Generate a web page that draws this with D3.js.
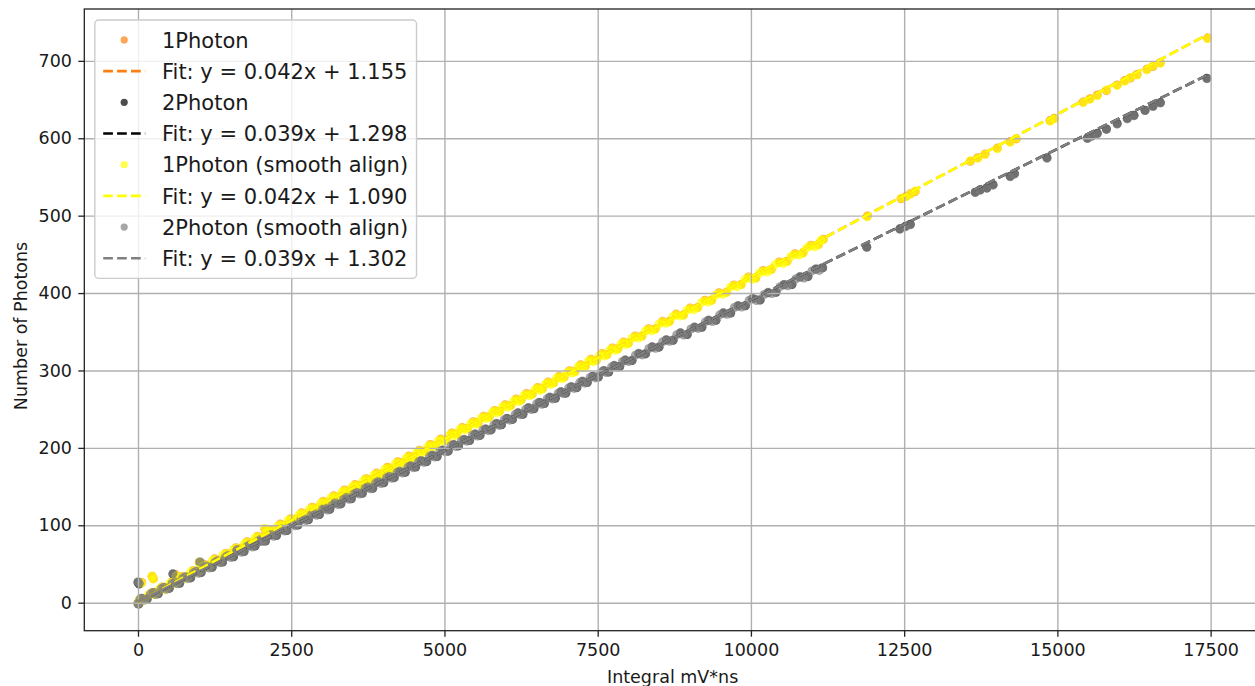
<!DOCTYPE html>
<html><head><meta charset="utf-8">
<script src="https://cdn.jsdelivr.net/npm/d3@7"></script>
<style>
body{margin:0;background:#fff;}
svg{display:block;font-family:"DejaVu Sans",sans-serif;}
</style></head><body><svg id="c" width="1255" height="686"></svg>
<script>
// ---------- data ----------
const xTicks = [0, 2500, 5000, 7500, 10000, 12500, 15000, 17500];
const yTicks = [0, 100, 200, 300, 400, 500, 600, 700];
const xDomain = [-876, 18322];
const yDomain = [-36.2, 767];
const xLabel = "Integral mV*ns";
const yLabel = "Number of Photons";

// 1Photon events (x shared by raw and smooth-aligned)
const x1 = [0,40,110,230,300,390,470,560,640,720,810,900,1000,1080,1170,1250,1340,1430,1510,1600,
1690,1780,1860,1950,2070,2140,2230,2320,2400,2490,2580,2670,2750,2840,2930,3020,3100,3190,3280,3370,
3450,3540,3630,3720,3800,3890,3980,4070,4150,4240,4330,4420,4500,4590,4680,4770,4850,4940,5030,5120,
5200,5290,5380,5470,5550,5640,5730,5820,5900,5990,6080,6170,6250,6340,6430,6520,6600,6690,6780,6870,
6950,7040,7130,7220,7300,7390,7480,7570,7650,7740,7830,7920,8000,8110,8220,8330,8440,8560,8670,8780,
8900,9010,9130,9250,9360,9480,9600,9720,9840,9960,10080,10200,10330,10460,10590,10720,10850,10980,11100,11180,
11900,12450,12530,12600,12680,13580,13700,13820,14020,14230,14330,14880,14950,15420,15530,15650,15800,15975,16100,16190,16300,16460,16560,16680,17450,
60,230,250,620,1000,2070];
const y1 = [-0.3,4.9,4.5,13.2,12.8,20.1,19.6,27.5,26.4,33.9,
33.8,41.7,41.4,49.5,48.4,56.6,55.6,63.9,63.1,71.0,
70.5,78.8,77.4,85.9,86.6,93.7,93.2,101.5,100.2,108.5,
108.0,116.1,115.0,123.3,122.5,130.9,129.6,138.0,137.2,145.6,
144.5,152.6,152.0,160.2,159.1,167.4,166.6,175.0,173.8,182.0,
181.4,189.5,188.6,196.9,195.9,204.4,203.1,211.5,210.6,219.2,
217.9,226.2,225.3,233.8,232.5,240.9,240.1,248.4,247.4,255.6,
254.9,263.1,262.0,270.3,269.5,277.9,276.6,285.0,284.2,292.6,
291.4,299.6,298.9,307.3,306.0,314.4,313.6,322.0,320.7,329.1,
328.4,336.7,335.4,344.6,344.6,353.9,353.9,363.5,363.5,372.8,
371.9,380.7,381.4,390.8,391.1,400.5,401.1,410.5,411.2,420.7,
419.7,429.2,430.5,440.1,441.1,450.9,452.0,461.8,462.7,469.6,
499.5,521.8,525.0,528.2,531.0,570.2,574.9,579.6,587.3,595.8,599.2,622.8,625.7,646.8,651.0,655.9,661.5,668.9,674.6,677.8,682.4,689.0,692.7,697.6,729.4,
26.0,34.0,31.0,36.0,52.0,95.0];
const y1s = [-0.8,4.6,3.9,12.9,12.1,19.8,19.0,26.9,26.1,33.4,
33.2,41.3,41.0,48.8,48.1,55.9,55.2,63.5,62.4,70.6,
70.0,78.2,77.0,85.4,85.9,93.3,92.7,100.8,99.8,108.0,
107.4,115.6,114.5,122.7,122.0,130.3,129.1,137.4,136.8,144.9,
143.9,152.1,151.4,159.7,158.5,166.8,166.2,174.3,173.3,181.5,
180.8,189.1,188.0,196.2,195.5,203.8,202.6,210.9,210.2,218.5,
217.4,225.6,224.9,233.2,232.0,240.3,239.6,247.9,246.8,255.0,
254.3,262.6,261.4,269.7,269.0,277.3,276.1,284.4,283.7,292.0,
290.8,299.1,298.4,306.7,305.5,313.8,313.1,321.4,320.2,328.5,
327.8,336.1,334.9,344.0,344.1,353.3,353.4,362.9,363.0,372.2,
371.3,380.1,380.9,390.2,390.6,399.9,400.6,409.9,410.7,420.1,
419.1,428.6,430.0,439.5,440.6,450.3,451.5,461.2,462.2,469.0,
498.6,522.5,524.3,527.6,531.8,571.0,574.1,579.0,586.5,594.6,599.9,621.9,625.0,646.1,650.4,654.8,662.3,668.1,673.7,678.5,681.6,688.3,693.5,696.9,728.8,
25.4,34.5,30.5,35.0,52.5,96.0];
// additional 1Photon (smooth align) events in the dense region
const x1m = [20,75,170,265,345,430,515,600,680,765,855,950,1040,1125,1210,1295,1385,1470,1555,1645,
1735,1820,1905,2010,2105,2185,2275,2360,2445,2535,2625,2710,2795,2885,2975,3060,3145,3235,3325,3410,
3495,3585,3675,3760,3845,3935,4025,4110,4195,4285,4375,4460,4545,4635,4725,4810,4895,4985,5075,5160,
5245,5335,5425,5510,5595,5685,5775,5860,5945,6035,6125,6210,6295,6385,6475,6560,6645,6735,6825,6910,
6995,7085,7175,7260,7345,7435,7525,7610,7695,7785,7875,7960,8055,8165,8275,8385,8500,8615,8725,8840,
8955,9070,9190,9305,9420,9540,9660,9780,9900,10020,10140,10265,10395,10525,10655,10785,10915,11040,11140];
const y1m = [3.9,2.2,10.2,10.2,17.6,17.1,24.7,24.3,31.7,31.2,39.0,39.0,46.8,46.3,53.9,53.5,61.3,60.8,68.4,68.2,
76.0,75.5,83.1,83.5,91.5,90.9,98.6,98.2,105.8,105.6,113.3,112.9,120.5,120.3,128.0,127.6,135.2,135.0,142.7,142.3,
149.9,149.7,157.4,157.0,164.6,164.4,172.1,171.7,179.3,179.1,186.8,186.4,194.0,193.8,201.5,201.1,208.7,208.5,216.2,215.8,
223.4,223.2,230.9,230.5,238.1,237.9,245.6,245.2,252.8,252.6,260.3,259.9,267.5,267.3,275.0,274.6,282.2,282.0,289.7,289.3,
296.9,296.7,304.4,304.0,311.6,311.4,319.1,318.7,326.3,326.1,333.8,333.4,341.4,342.0,350.6,351.3,360.1,360.9,369.5,370.4,
377.7,378.5,387.6,388.4,397.2,398.3,407.3,408.3,417.4,417.9,426.0,427.2,436.7,438.1,447.6,449.1,458.5,459.8,468.0];

// 2Photon events (x shared by raw and smooth-aligned)
const x2 = [0,60,150,250,330,420,510,600,680,770,860,950,1030,1120,1210,1300,1380,1470,1560,1650,
1730,1820,1910,2000,2080,2170,2260,2350,2430,2520,2610,2700,2780,2870,2960,3050,3130,3220,3310,3400,
3480,3570,3660,3750,3830,3920,4010,4100,4180,4270,4360,4450,4530,4620,4710,4800,4880,4970,5060,5150,
5230,5320,5410,5500,5580,5670,5760,5850,5930,6020,6110,6200,6280,6370,6460,6550,6630,6720,6810,6900,
6980,7070,7160,7250,7330,7420,7510,7600,7680,7770,7860,7950,8060,8170,8280,8390,8500,8620,8730,8850,
8960,9080,9200,9310,9430,9550,9670,9790,9910,10030,10150,10280,10410,10540,10670,10800,10930,11060,11170,
11890,12430,12520,12600,13660,13740,13850,13950,14230,14300,14830,15490,15560,15650,15800,15975,16140,16250,16430,16560,16680,17440,
0,20,570,1010,1615,2000,15];
const y2 = [-1.4,5.3,4.6,12.7,11.5,19.4,18.6,26.4,25.1,33.0,
32.0,40.1,38.9,46.8,45.7,53.8,52.4,60.4,59.3,67.4,
66.0,74.1,73.1,81.1,79.6,87.7,86.7,94.7,93.3,101.4,
100.3,108.4,107.0,115.0,113.9,122.1,120.7,128.7,127.6,135.7,
134.2,142.3,141.3,149.4,147.9,156.0,155.0,163.0,161.5,169.6,
168.5,176.7,175.3,183.3,182.2,190.3,188.9,196.9,195.8,204.0,
202.5,210.6,209.6,217.6,216.1,224.2,223.2,231.3,229.8,237.9,
236.8,244.9,243.5,251.5,250.4,258.6,257.2,265.2,264.1,272.2,
270.7,278.8,277.8,285.9,284.4,292.5,291.5,299.5,298.0,306.1,
305.0,313.2,312.9,321.7,321.4,330.3,330.1,339.3,339.0,348.3,
346.4,355.7,355.9,364.7,364.8,374.1,374.2,383.4,383.5,392.8,
390.9,400.4,401.1,410.7,411.1,420.8,421.4,430.9,432.5,
459.5,483.0,486.2,488.9,530.4,533.5,536.0,540.1,551.0,554.4,574.9,600.3,603.1,606.5,612.0,619.0,625.8,629.7,636.2,641.6,646.1,677.5,
26.0,24.0,37.0,52.0,68.0,80.0,-1.5];
const y2s = [-1.0,5.8,5.0,13.2,12.0,19.9,19.0,26.9,25.6,33.5,
32.5,40.6,39.3,47.3,46.2,54.3,52.8,60.9,59.8,67.9,
66.5,74.6,73.5,81.6,80.1,88.2,87.1,95.2,93.8,101.9,
100.8,108.9,107.4,115.5,114.4,122.6,121.1,129.2,128.1,136.2,
134.7,142.8,141.7,149.9,148.4,156.5,155.4,163.5,162.0,170.1,
169.0,177.2,175.7,183.8,182.7,190.8,189.3,197.4,196.3,204.5,
203.0,211.1,210.0,218.1,216.6,224.7,223.6,231.8,230.3,238.4,
237.3,245.4,243.9,252.0,250.9,259.1,257.6,265.7,264.6,272.7,
271.2,279.3,278.2,286.4,284.9,293.0,291.9,300.0,298.5,306.6,
305.5,313.7,313.3,322.2,321.9,330.8,330.5,339.8,339.5,348.8,
346.9,356.2,356.3,365.2,365.3,374.6,374.6,383.9,384.0,393.3,
391.4,400.9,401.5,411.2,411.6,421.3,421.8,431.4,433.0,
459.0,482.4,485.7,488.1,529.8,532.9,535.2,539.4,550.2,553.6,574.2,599.6,602.5,605.9,611.4,618.2,625.0,629.1,635.8,640.9,645.5,677.0,
27.0,25.0,37.5,53.0,68.5,79.5,-2.0];
// additional 2Photon (smooth align) events in the dense region
const x2m = [30,105,200,290,375,465,555,640,725,815,905,990,1075,1165,1255,1340,1425,1515,1605,1690,
1775,1865,1955,2040,2125,2215,2305,2390,2475,2565,2655,2740,2825,2915,3005,3090,3175,3265,3355,3440,
3525,3615,3705,3790,3875,3965,4055,4140,4225,4315,4405,4490,4575,4665,4755,4840,4925,5015,5105,5190,
5275,5365,5455,5540,5625,5715,5805,5890,5975,6065,6155,6240,6325,6415,6505,6590,6675,6765,6855,6940,
7025,7115,7205,7290,7375,7465,7555,7640,7725,7815,7905,8005,8115,8225,8335,8445,8560,8675,8790,8905,
9020,9140,9255,9370,9490,9610,9730,9850,9970,10090,10215,10345,10475,10605,10735,10865,10995,11115];
const y2m = [4.5,3.4,11.1,10.6,17.9,17.4,24.9,24.3,31.6,31.1,38.6,37.9,45.2,44.7,52.2,51.6,58.9,58.4,65.9,65.2,
72.5,72.0,79.5,78.9,86.2,85.7,93.2,92.5,99.8,99.3,106.8,106.2,113.5,113.0,120.5,119.8,127.1,126.6,134.1,133.5,
140.8,140.3,147.8,147.1,154.4,153.9,161.4,160.8,168.1,167.6,175.1,174.4,181.7,181.2,188.7,188.1,195.4,194.9,202.4,201.7,
209.0,208.5,216.0,215.4,222.7,222.2,229.7,229.0,236.3,235.8,243.3,242.7,250.0,249.5,257.0,256.3,263.6,263.1,270.6,270.0,
277.3,276.8,284.3,283.6,290.9,290.4,297.9,297.3,304.6,304.1,311.6,311.5,319.8,320.1,328.4,328.7,337.1,337.6,346.1,345.8,
353.6,354.3,362.7,363.2,371.9,372.6,381.3,382.0,390.6,390.3,398.2,399.3,408.3,409.4,418.5,419.5,428.6,429.3];

const seriesNames = ["1Photon", "2Photon", "1Photon (smooth align)", "2Photon (smooth align)"];
const seriesColors = ["#ff7f0e", "#000000", "#ffff00", "#808080"];
const fitSlopes = [0.042, 0.039, 0.042, 0.039];
const fitIntercepts = [1.155, 1.298, 1.090, 1.302];

// ---------- drawing ----------
const svg = d3.select("#c");
const L = 84.3, R = 1261, T = 9, B = 630.7;
const sx = d3.scaleLinear().domain(xDomain).range([L, R]);
const sy = d3.scaleLinear().domain(yDomain).range([B, T]);

svg.append("defs").append("clipPath").attr("id", "clip")
  .append("rect").attr("x", L).attr("y", T).attr("width", R - L).attr("height", B - T);

const seriesPts = [
  d3.zip(x1, y1),
  d3.zip(x2, y2),
  d3.zip(x1, y1s).concat(d3.zip(x1m, y1m)),
  d3.zip(x2, y2s).concat(d3.zip(x2m, y2m))
];
const series = seriesPts.map((pts, i) => ({
  name: seriesNames[i], color: seriesColors[i],
  pts: pts, slope: fitSlopes[i], icpt: fitIntercepts[i]
}));

const plot = svg.append("g").attr("clip-path", "url(#clip)");
// scatter (zorder 1)
series.forEach(s => {
  plot.append("g").selectAll("circle").data(s.pts).join("circle")
    .attr("cx", d => sx(d[0])).attr("cy", d => sy(d[1])).attr("r", 4.5)
    .attr("fill", s.color).attr("fill-opacity", 0.7);
});

// grid (zorder 1.5)
const grid = svg.append("g");
grid.append("g").attr("transform", `translate(0,${B})`)
  .call(d3.axisBottom(sx).tickValues(xTicks).tickSize(-(B - T)).tickFormat(""))
  .call(g => g.select(".domain").remove())
  .call(g => g.selectAll("line").attr("stroke", "#b0b0b0").attr("stroke-width", 1.4));
grid.append("g").attr("transform", `translate(${L},0)`)
  .call(d3.axisLeft(sy).tickValues(yTicks).tickSize(-(R - L)).tickFormat(""))
  .call(g => g.select(".domain").remove())
  .call(g => g.selectAll("line").attr("stroke", "#b0b0b0").attr("stroke-width", 1.4));

// fit lines (zorder 2)
const line = d3.line().x(d => sx(d[0])).y(d => sy(d[1]));
const fitG = svg.append("g").attr("clip-path", "url(#clip)");
series.forEach(s => {
  const ext = d3.extent(s.pts, d => d[0]);
  const lp = ext.map(x => [x, s.slope * x + s.icpt]);
  fitG.append("path").attr("d", line(lp)).attr("fill", "none")
    .attr("stroke", s.color).attr("stroke-width", 2.6).attr("stroke-dasharray", "9.7,4.2");
});

// axes
const fmt = d => String(d);
const ax = svg.append("g").attr("transform", `translate(0,${B})`)
  .call(d3.axisBottom(sx).tickValues(xTicks).tickSize(6).tickPadding(7.3).tickSizeOuter(0).tickFormat(fmt));
const ay = svg.append("g").attr("transform", `translate(${L},0)`)
  .call(d3.axisLeft(sy).tickValues(yTicks).tickSize(6).tickPadding(6.3).tickSizeOuter(0).tickFormat(fmt));
[ax, ay].forEach(a => {
  a.select(".domain").remove();
  a.selectAll("line").attr("stroke", "#222").attr("stroke-width", 1.3);
  a.selectAll("text").attr("font-size", "17.5px").attr("fill", "#1a1a1a").attr("font-family", "DejaVu Sans");
});
// spines
svg.append("rect").attr("x", L).attr("y", T).attr("width", R - L).attr("height", B - T)
  .attr("fill", "none").attr("stroke", "#222").attr("stroke-width", 1.3);

// axis labels
svg.append("text").attr("x", (L + R) / 2).attr("y", 683).attr("text-anchor", "middle")
  .attr("font-size", "17.5px").attr("fill", "#1a1a1a").text(xLabel);
svg.append("text").attr("transform", `translate(27,326) rotate(-90)`)
  .attr("text-anchor", "middle").attr("font-size", "17.5px").attr("fill", "#1a1a1a").text(yLabel);

// legend
const fs = 21;
const entries = [];
series.forEach(s => {
  entries.push({type: "dot", color: s.color, label: s.name});
  entries.push({type: "line", color: s.color,
    label: `Fit: y = ${s.slope.toFixed(3)}x + ${s.icpt.toFixed(3)}`});
});
const lg = svg.append("g");
const lx = L + 10.5, ly = T + 11;
const rowH = 31.2, pad = 8.4, hl = 42, htp = 16.8;
const box = lg.append("rect").attr("x", lx).attr("y", ly).attr("rx", 4).attr("ry", 4)
  .attr("fill", "#fff").attr("fill-opacity", 0.8).attr("stroke", "#cccccc").attr("stroke-width", 1.4);
let maxW = 0;
entries.forEach((e, i) => {
  const cy = ly + pad + 11.5 + i * rowH;
  const hx = lx + pad;
  if (e.type === "dot") {
    lg.append("circle").attr("cx", hx + hl / 2).attr("cy", cy).attr("r", 3.6)
      .attr("fill", e.color).attr("fill-opacity", 0.7);
  } else {
    lg.append("line").attr("x1", hx).attr("x2", hx + hl).attr("y1", cy).attr("y2", cy)
      .attr("stroke", e.color).attr("stroke-width", 2.6).attr("stroke-dasharray", "9.7,4.2");
  }
  const t = lg.append("text").attr("x", hx + hl + htp).attr("y", cy + 7.6)
    .attr("font-size", fs + "px").attr("fill", "#1a1a1a").text(e.label);
  maxW = Math.max(maxW, t.node().getComputedTextLength());
});
box.attr("width", pad + hl + htp + maxW + pad).attr("height", entries.length * rowH + 2 * pad - 8);
</script></body></html>
